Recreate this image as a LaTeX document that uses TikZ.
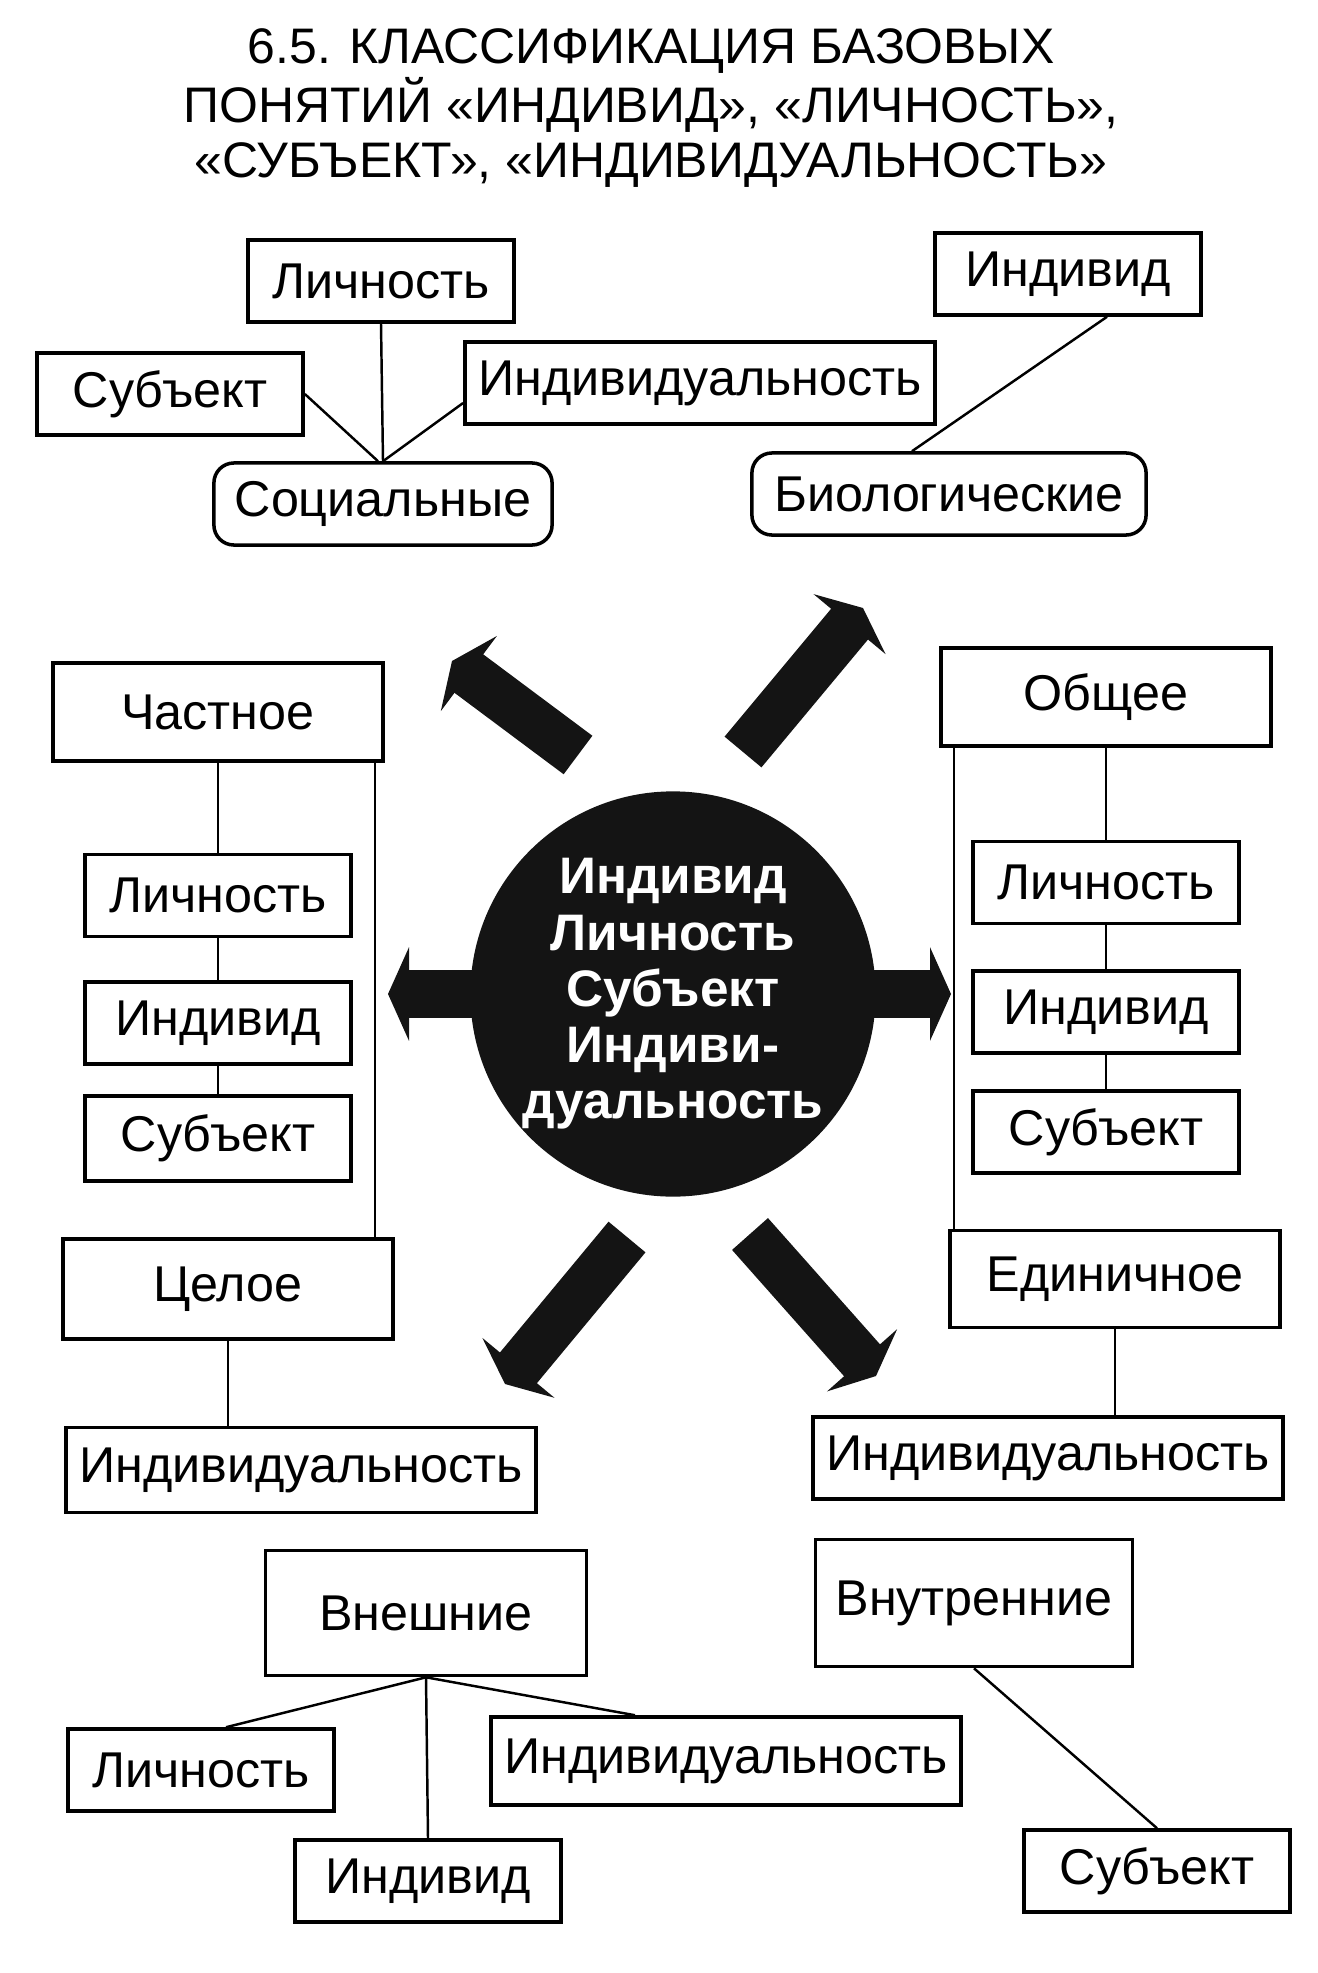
\documentclass[tikz,border=0pt]{standalone}
\usepackage{fontspec}
\setmainfont{Liberation Sans}
\usetikzlibrary{arrows.meta, positioning}

\newcommand{\cellfont}{\fontsize{14.3}{17}\selectfont}
\newcommand{\hubfont}{\fontsize{14.6}{16}\selectfont\bfseries}
\newcommand{\ttlfont}{\fontsize{14.2}{15.6}\selectfont}

\begin{document}
\begin{tikzpicture}[
    x=0.01cm, y=-0.01cm,
    node distance=0.4cm,
    block/.style={rectangle, draw=black, line width=1pt, fill=white,
                  minimum width=2.66cm, minimum height=0.82cm,
                  inner sep=2pt, align=center, font=\cellfont},
    wideblock/.style={block, minimum width=4.7cm},
    headblock/.style={block, minimum width=3.3cm, minimum height=0.98cm},
    roundblock/.style={block, rounded corners=0.2cm},
    hub/.style={circle, fill=black!92, minimum size=4.04cm, inner sep=0pt,
                text=white, align=center, font=\hubfont},
    link/.style={black, line width=0.7pt},
    bigarr/.style={black!92, line width=0.48cm,
                   -{Triangle[length=0.21cm, width=0.93cm]}},
    ttl/.style={align=center, font=\ttlfont},
  ]
    \useasboundingbox (0,0) rectangle (1317,1973);

    % ── Title ────────────────────────────────────
    \node[ttl] (title) at (651,108)
      {6.5. КЛАССИФИКАЦИЯ БАЗОВЫХ\\ПОНЯТИЙ «ИНДИВИД», «ЛИЧНОСТЬ»,\\«СУБЪЕКТ», «ИНДИВИДУАЛЬНОСТЬ»};

    % ── Social / biological ──────────────────────
    \node[block] (tlich) at (381,281) {Личность};
    \node[block] (tsubj) at (170,394) {Субъект};
    \node[wideblock] (tindv) at (700,383) {Индивидуальность};
    \node[roundblock, minimum width=3.38cm] (social) at (383,504) {Социальные};
    \node[block] (tind) at (1068,274) {Индивид};
    \node[roundblock, minimum width=3.94cm] (bio) at (949,494) {Биологические};

    \draw[link] (tlich.south) -- (social.north);
    \draw[link] (tsubj.east) -- ([xshift=-0.05cm]social.north);
    \draw[link] ([yshift=-0.2cm]tindv.west) -- (social.north);
    \draw[link] ([xshift=0.39cm]tind.south) -- ([xshift=-0.37cm]bio.north);

    % ── Centre with arrows ───────────────────────
    \node[hub] (core) at (673,994) {Индивид\\Личность\\Субъект\\Индиви-\\дуальность};

    \coordinate (wtip) at (388,994);
    \coordinate (etip) at (951,994);
    \coordinate (nwtail) at (578,755);
    \coordinate (nwtip) at (452,661);
    \coordinate (netail) at (743,752);
    \coordinate (netip) at (863,608);
    \coordinate (swtail) at (627,1237);
    \coordinate (swtip) at (505,1384);
    \coordinate (setail) at (750,1234);
    \coordinate (setip) at (876,1376);

    \draw[bigarr] ([xshift=0.1cm]core.west) -- (wtip);
    \draw[bigarr] ([xshift=-0.1cm]core.east) -- (etip);
    \draw[bigarr] (nwtail) -- (nwtip);
    \draw[bigarr] (netail) -- (netip);
    \draw[bigarr] (swtail) -- (swtip);
    \draw[bigarr] (setail) -- (setip);

    % ── Partial / whole ──────────────────────────
    \node[headblock] (part) at (218,712) {Частное};
    \node[block, below=0.9cm of part] (plich) {Личность};
    \node[block, below=0.42cm of plich] (pind) {Индивид};
    \node[block, below=0.28cm of pind, minimum height=0.85cm] (psubj) {Субъект};
    \node[headblock, minimum height=1cm] (whole) at (228,1289) {Целое};
    \node[wideblock, minimum height=0.85cm] (pindv) at (301,1470) {Индивидуальность};

    \draw[link] (part) -- (plich);
    \draw[link] (plich) -- (pind);
    \draw[link] (pind) -- (psubj);
    \coordinate (lv) at ([xshift=-0.1cm]part.south east);
    \draw[link] (lv) -- (lv |- whole.north);
    \draw[link] (whole.south) -- (whole.south |- pindv.north);

    % ── General / single ─────────────────────────
    \node[headblock] (gen) at (1106,697) {Общее};
    \node[block, below=0.92cm of gen] (glich) {Личность};
    \node[block, below=0.44cm of glich] (gind) {Индивид};
    \node[block, below=0.34cm of gind] (gsubj) {Субъект};
    \node[headblock, minimum height=0.97cm] (single) at (1115,1279) {Единичное};
    \node[wideblock] (gindv) at (1048,1458) {Индивидуальность};

    \draw[link] (gen) -- (glich);
    \draw[link] (glich) -- (gind);
    \draw[link] (gind) -- (gsubj);
    \coordinate (rv) at ([xshift=0.15cm]gen.south west);
    \draw[link] (rv) -- (rv |- single.north);
    \draw[link] (single.south) -- (single.south |- gindv.north);

    % ── Outer / inner ────────────────────────────
    \node[block, minimum width=3.21cm, minimum height=1.25cm] (outer) at (426,1613) {Внешние};
    \node[block] (olich) at (201,1770) {Личность};
    \node[wideblock, minimum height=0.88cm] (oindv) at (726,1761) {Индивидуальность};
    \node[block] (oind) at (428,1881) {Индивид};
    \node[block, minimum width=3.17cm, minimum height=1.27cm] (inner) at (974,1603) {Внутренние};
    \node[block] (isubj) at (1157,1871) {Субъект};

    \draw[link] (outer.south) -- ([xshift=0.25cm]olich.north);
    \draw[link] (outer.south) -- (oind.north);
    \draw[link] (outer.south) -- ([xshift=-0.91cm]oindv.north);
    \draw[link] (inner.south) -- (isubj.north);
\end{tikzpicture}
\end{document}
